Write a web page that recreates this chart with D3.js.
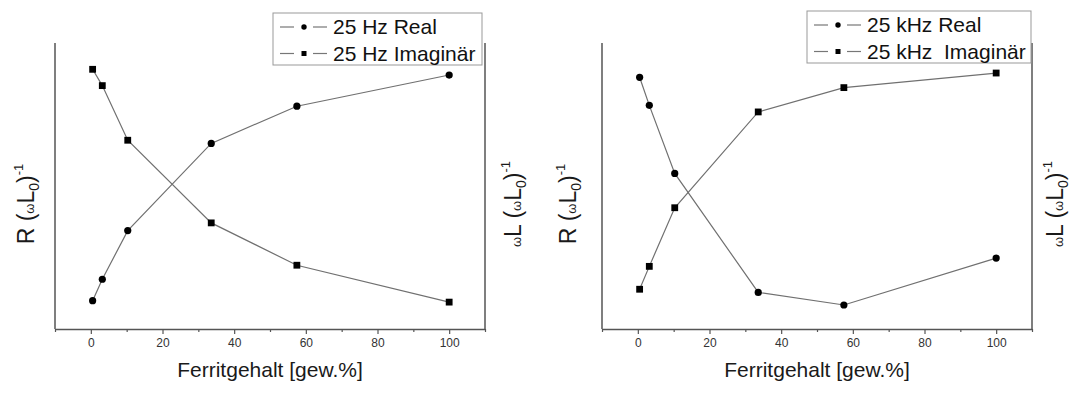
<!DOCTYPE html>
<html>
<head>
<meta charset="utf-8">
<script src="https://cdn.jsdelivr.net/npm/d3@7"></script>
<style>
  body { margin: 0; background: #fff; }
  svg { font-family: 'Liberation Sans', Arial, sans-serif; }
</style>
</head>
<body>
<div id="chart"></div>
<script>
// Ferrite content in gew.% (shared x for both measurements)
const ferritContent = [0.5, 3.2, 10.3, 33.6, 57.5, 100];

// values in arbitrary units (no y ticks in the original)
const real25Hz = [9.9, 17.4, 34.4, 64.9, 77.9, 88.8];
const imag25Hz = [90.8, 85.1, 66.0, 37.1, 22.3, 9.4];
const real25kHz = [88.0, 78.2, 54.4, 12.8, 8.4, 24.8];
const imag25kHz = [13.9, 21.9, 42.4, 75.9, 84.4, 89.5];

const xTicks = [0, 20, 40, 60, 80, 100];
const xMinorTicks = [-10, 10, 30, 50, 70, 90, 110];
const legend25Hz = ['25 Hz Real', '25 Hz Imaginär'];
const legend25kHz = ['25 kHz Real', '25 kHz  Imaginär'];
const xTitle = 'Ferritgehalt [gew.%]';

const width = 1073, height = 394;

const svg = d3.select('#chart')
  .append('svg')
  .attr('width', width)
  .attr('height', height);

// panel layout
const panels = [
  { left: 55, right: 485, real: real25Hz, imag: imag25Hz, legend: legend25Hz,
    legendX: 273, legendY: 13, legendW: 209, labelL: 34, labelR: 521 },
  { left: 602, right: 1032, real: real25kHz, imag: imag25kHz, legend: legend25kHz,
    legendX: 807, legendY: 11, legendW: 224, labelL: 576, labelR: 1063 },
];
const plotTop = 43, plotBottom = 329;

function addAxisLabel(sel, x, y, prefix) {
  const t = sel.append('text')
    .attr('transform', `translate(${x},${y}) rotate(-90)`)
    .attr('text-anchor', 'middle')
    .attr('fill', '#1a1a1a')
    .style('font-size', '23px');
  if (prefix) {
    t.append('tspan').style('font-size', '13px').text('ω');
    t.append('tspan').text('L ');
  } else {
    t.append('tspan').text('R ');
  }
  t.append('tspan').text('(');
  t.append('tspan').style('font-size', '13px').text('ω');
  t.append('tspan').text('L');
  t.append('tspan').style('font-size', '14px').attr('dy', 5).text('0');
  t.append('tspan').attr('dy', -5).text(')');
  t.append('tspan').style('font-size', '13px').attr('dy', -11).text('-1');
}

panels.forEach((p) => {
  const g = svg.append('g');

  const x = d3.scaleLinear().domain([-10, 110]).range([p.left, p.right]);
  const y = d3.scaleLinear().domain([0, 100]).range([plotBottom, plotTop]);

  // minor ticks
  g.append('g')
    .attr('transform', `translate(0,${plotBottom})`)
    .call(d3.axisBottom(x).tickValues(xMinorTicks).tickSize(3).tickSizeOuter(0).tickFormat(''))
    .call((a) => a.select('.domain').remove())
    .selectAll('line').attr('stroke', '#555').attr('stroke-width', 1.2);

  // major ticks + labels
  const ax = g.append('g')
    .attr('transform', `translate(0,${plotBottom})`)
    .call(d3.axisBottom(x).tickValues(xTicks).tickSize(5).tickSizeOuter(0).tickPadding(4));
  ax.select('.domain').attr('stroke', '#555').attr('stroke-width', 1.5);
  ax.selectAll('line').attr('stroke', '#555').attr('stroke-width', 1.2);
  ax.selectAll('text')
    .attr('fill', '#333')
    .style('font-size', '12px')
    .style('font-family', "'Liberation Sans', Arial, sans-serif");

  // left and right frame lines
  [p.left, p.right].forEach((xx) => {
    g.append('line')
      .attr('x1', xx).attr('x2', xx)
      .attr('y1', plotTop).attr('y2', plotBottom)
      .attr('stroke', '#555')
      .attr('stroke-width', 1.5);
  });

  const line = d3.line()
    .x((d, i) => x(ferritContent[i]))
    .y((d) => y(d));

  [p.real, p.imag].forEach((series) => {
    g.append('path')
      .datum(series)
      .attr('fill', 'none')
      .attr('stroke', '#707070')
      .attr('stroke-width', 1.2)
      .attr('d', line);
  });

  g.selectAll('circle.real')
    .data(p.real)
    .join('circle')
    .attr('class', 'real')
    .attr('cx', (d, i) => x(ferritContent[i]))
    .attr('cy', (d) => y(d))
    .attr('r', 3.6)
    .attr('fill', '#000');

  g.selectAll('rect.imag')
    .data(p.imag)
    .join('rect')
    .attr('class', 'imag')
    .attr('x', (d, i) => x(ferritContent[i]) - 3.4)
    .attr('y', (d) => y(d) - 3.4)
    .attr('width', 6.8)
    .attr('height', 6.8)
    .attr('fill', '#000');

  // legend
  const lg = g.append('g').attr('transform', `translate(${p.legendX},${p.legendY})`);
  lg.append('rect')
    .attr('width', p.legendW)
    .attr('height', 52)
    .attr('fill', 'none')
    .attr('stroke', '#999')
    .attr('stroke-width', 1);
  p.legend.forEach((label, i) => {
    const cy = 14 + i * 26.5;
    [[7, 21], [40, 54]].forEach(([a, b]) => {
      lg.append('line')
        .attr('x1', a).attr('x2', b)
        .attr('y1', cy).attr('y2', cy)
        .attr('stroke', '#777').attr('stroke-width', 1.2);
    });
    if (i === 0) {
      lg.append('circle').attr('cx', 31).attr('cy', cy).attr('r', 2.7).attr('fill', '#000');
    } else {
      lg.append('rect').attr('x', 28.5).attr('y', cy - 2.5).attr('width', 5).attr('height', 5).attr('fill', '#000');
    }
    lg.append('text')
      .attr('x', 60)
      .attr('y', cy)
      .attr('dy', '0.35em')
      .attr('fill', '#111')
      .style('font-size', '21px')
      .style('white-space', 'pre')
      .text(label);
  });

  // axis titles
  g.append('text')
    .attr('x', (p.left + p.right) / 2)
    .attr('y', 377)
    .attr('text-anchor', 'middle')
    .attr('fill', '#1a1a1a')
    .style('font-size', '21px')
    .text(xTitle);

  addAxisLabel(g, p.labelL, 204, false);
  addAxisLabel(g, p.labelR, 204, true);
});
</script>
</body>
</html>
